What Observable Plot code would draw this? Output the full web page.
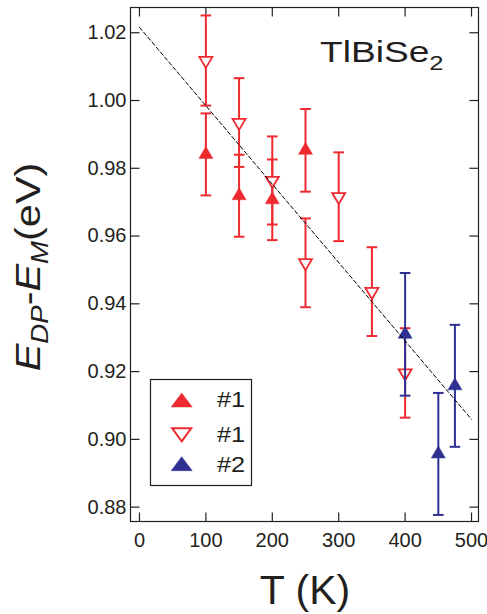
<!DOCTYPE html>
<html><head><meta charset="utf-8">
<script src="https://cdn.jsdelivr.net/npm/d3@7"></script>
<script src="https://cdn.jsdelivr.net/npm/@observablehq/plot@0.6"></script>
<style>
html,body{margin:0;padding:0;background:#fff;overflow:hidden;}
#chart svg{display:block;max-width:none !important;}
</style>
</head><body><div id="chart"></div>
<script>
// ---- data ----
const s1FilledT = [100, 150, 200, 250];
const s1FilledE = [0.9841, 0.9719, 0.9707, 0.9853];
const s1FilledErr = [0.0121, 0.0121, 0.0119, 0.0122];

const s1OpenT = [100, 150, 200, 250, 300, 350, 400];
const s1OpenE = [1.0118, 0.9935, 0.9764, 0.9521, 0.9716, 0.9436, 0.9196];
const s1OpenErr = [0.0133, 0.0131, 0.0130, 0.0131, 0.0131, 0.0131, 0.0132];

const s2T = [400, 450, 475];
const s2E = [0.9310, 0.8957, 0.9158];
const s2Err = [0.0181, 0.0180, 0.0180];

const fitT = [0, 500];
const fitE = [1.0216, 0.9059];

const xTicks = [0, 100, 200, 300, 400, 500];
const yTicks = [0.88, 0.90, 0.92, 0.94, 0.96, 0.98, 1.00, 1.02];
const legendLabels = ["#1", "#1", "#2"];
const sampleLabel = ["TlBiSe", "2"];

// ---- styles ----
const ink = "#231f20";
const red = "#ed2a2f";
const blue = "#2e3192";
const font = "'Liberation Sans', Arial, Helvetica, sans-serif";

function rows(T, E, err) { return T.map((t, i) => ({T: t, E: E[i], err: err[i]})); }
const filled = rows(s1FilledT, s1FilledE, s1FilledErr);
const open = rows(s1OpenT, s1OpenE, s1OpenErr);
const s2 = rows(s2T, s2E, s2Err);
const fit = fitT.map((t, i) => ({T: t, E: fitE[i]}));

function tri(w, h, up) {
  return {draw(ctx) {
    if (up) { ctx.moveTo(0, -2*h/3); ctx.lineTo(w/2, h/3); ctx.lineTo(-w/2, h/3); }
    else { ctx.moveTo(0, 2*h/3); ctx.lineTo(w/2, -h/3); ctx.lineTo(-w/2, -h/3); }
    ctx.closePath();
  }};
}
const cap = {draw(ctx) { ctx.moveTo(-5.3, 0); ctx.lineTo(5.3, 0); }};
const tl = 9;
const tickUp = {draw(c) { c.moveTo(0, 0); c.lineTo(0, -tl); }};
const tickDown = {draw(c) { c.moveTo(0, 0); c.lineTo(0, tl); }};
const tickRight = {draw(c) { c.moveTo(0, 0); c.lineTo(tl, 0); }};
const tickLeft = {draw(c) { c.moveTo(0, 0); c.lineTo(-tl, 0); }};

function series(data, color, sym, fill, sw) {
  return [
    Plot.ruleX(data, {x: "T", y1: d => d.E - d.err, y2: d => d.E + d.err, stroke: color, strokeWidth: 2}),
    Plot.dot(data, {x: "T", y: d => d.E + d.err, symbol: cap, r: 5, stroke: color, strokeWidth: 2, fill: "none"}),
    Plot.dot(data, {x: "T", y: d => d.E - d.err, symbol: cap, r: 5, stroke: color, strokeWidth: 2, fill: "none"}),
    Plot.dot(data, {x: "T", y: "E", symbol: sym, r: 5, fill: fill, stroke: color, strokeWidth: sw})
  ];
}

const chart = Plot.plot({
  width: 487, height: 614,
  marginLeft: 130, marginRight: 9, marginTop: 7, marginBottom: 93,
  style: {fontSize: "20px", fontFamily: font, color: ink, background: "#fff"},
  x: {domain: [-13.5, 510.5], ticks: xTicks, tickSize: 0, tickPadding: 11, tickFormat: d => String(d), label: null},
  y: {domain: [0.87576, 1.02745], ticks: yTicks, tickSize: 0, tickPadding: 4, tickFormat: d3.format(".2f"), label: null},
  marks: [
    Plot.frame({stroke: ink, strokeWidth: 1.2}),
    Plot.dot(xTicks, {x: d => d, frameAnchor: "bottom", symbol: tickUp, r: 5, stroke: ink, fill: "none", strokeWidth: 1.2}),
    Plot.dot(xTicks, {x: d => d, frameAnchor: "top", symbol: tickDown, r: 5, stroke: ink, fill: "none", strokeWidth: 1.2}),
    Plot.dot(yTicks, {y: d => d, frameAnchor: "left", symbol: tickRight, r: 5, stroke: ink, fill: "none", strokeWidth: 1.2}),
    Plot.dot(yTicks, {y: d => d, frameAnchor: "right", symbol: tickLeft, r: 5, stroke: ink, fill: "none", strokeWidth: 1.2}),
    ...series(filled, red, tri(14, 12, true), red, 0.5),
    ...series(open, red, tri(13, 11, false), "white", 1.8),
    ...series(s2, blue, tri(14, 12, true), blue, 0.5),
    Plot.line(fit, {x: "T", y: "E", stroke: "#000", strokeWidth: 1, strokeDasharray: "4,2.5"})
  ]
});
document.getElementById("chart").appendChild(chart);

// ---- text annotations & legend ----
const svg = d3.select(chart);
const g = svg.append("g").attr("font-family", font).attr("fill", ink).attr("text-anchor", "start");

// y label
const yl = g.append("text").attr("transform", "translate(40,267) rotate(-90) scale(1.15,1)")
  .attr("text-anchor", "middle").attr("font-size", 36);
yl.append("tspan").attr("font-style", "italic").text("E");
yl.append("tspan").attr("font-style", "italic").attr("font-size", 24).attr("dy", 8).text("DP");
yl.append("tspan").attr("dy", -8).text("-");
yl.append("tspan").attr("font-style", "italic").text("E");
yl.append("tspan").attr("font-style", "italic").attr("font-size", 24).attr("dy", 8).text("M");
yl.append("tspan").attr("dy", -8).text("(eV)");

// x label
g.append("text").attr("x", 305).attr("y", 604).attr("text-anchor", "middle").attr("font-size", 41).text("T (K)");

// sample label
const sl = g.append("text").attr("transform", "translate(320,61.7) scale(1.28,1)").attr("text-anchor", "start").attr("font-size", 29);
sl.append("tspan").text(sampleLabel[0]);
sl.append("tspan").attr("font-size", 20).attr("dy", 8.3).text(sampleLabel[1]);

// legend
const lg = g.append("g");
lg.append("rect").attr("x", 150.5).attr("y", 379.5).attr("width", 101).attr("height", 106)
  .attr("fill", "#fff").attr("stroke", ink).attr("stroke-width", 1.2);
const legSyms = [
  {sym: tri(21, 14, true), fill: red, stroke: red, sw: 0.5, cy: 402.3},
  {sym: tri(19, 13, false), fill: "#fff", stroke: red, sw: 2, cy: 432.7},
  {sym: tri(21, 14, true), fill: blue, stroke: blue, sw: 0.5, cy: 466}
];
const baselines = [407.3, 441.7, 471.7];
legSyms.forEach((s, i) => {
  lg.append("path").attr("d", d3.symbol().type(s.sym)()).attr("transform", `translate(181.7,${s.cy})`)
    .attr("fill", s.fill).attr("stroke", s.stroke).attr("stroke-width", s.sw);
  lg.append("text").attr("transform", `translate(217,${baselines[i]}) scale(1.15,1)`)
    .attr("text-anchor", "start").attr("font-size", 22).text(legendLabels[i]);
});
</script>
</body></html>
